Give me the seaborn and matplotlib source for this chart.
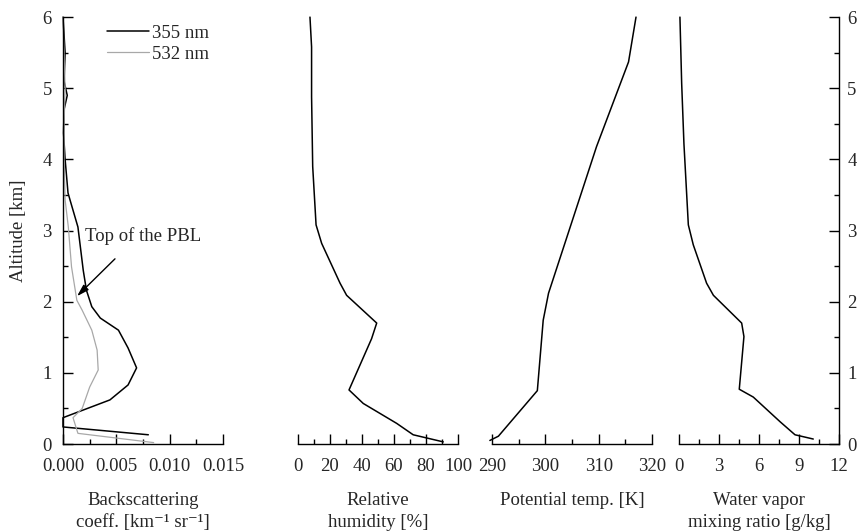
import numpy as np
import pandas as pd
import matplotlib
matplotlib.use("Agg")
import matplotlib.pyplot as plt
from matplotlib.ticker import MultipleLocator, FormatStrFormatter
import seaborn as sns

# ---------- data ----------
alt_355 = [0.13, 0.24, 0.37, 0.62, 0.83, 1.07, 1.35, 1.60, 1.77, 1.93, 2.16,
           2.44, 3.05, 3.43, 3.53, 4.0, 4.37, 4.7, 4.9, 5.1, 5.5, 6.0]
bs_355 = [0.0080, 0.0, 0.0, 0.0044, 0.0061, 0.0069, 0.0061, 0.0052, 0.0035,
          0.0027, 0.0022, 0.0019, 0.0014, 0.00066, 0.00047, 0.0002, 0.00005,
          0.0001, 0.0004, 0.0001, 0.0002, 0.0]

alt_532 = [0.02, 0.15, 0.37, 0.50, 0.80, 1.04, 1.32, 1.60, 1.88, 2.02, 2.49,
           3.05, 3.43, 4.0, 4.5, 5.0, 5.5, 6.0]
bs_532 = [0.0085, 0.0014, 0.00094, 0.0018, 0.0025, 0.0033, 0.0032, 0.0027,
          0.0018, 0.0013, 0.0008, 0.0005, 0.0002, 0.0001, 0.0001, 0.0002,
          0.0001, 0.0]

alt_rh = [0.03, 0.13, 0.29, 0.57, 0.76, 1.48, 1.70, 2.09, 2.26, 2.82, 3.08,
          3.9, 4.88, 5.58, 6.0]
rh = [90.8, 72.0, 61.7, 40.8, 31.9, 46.0, 49.2, 30.4, 26.3, 14.8, 11.3,
      9.2, 8.5, 8.5, 7.5]

alt_theta = [0.05, 0.11, 0.75, 1.74, 2.12, 4.18, 5.37, 6.0]
theta = [289.6, 291.2, 298.5, 299.6, 300.6, 309.6, 315.6, 317.0]

alt_w = [0.07, 0.13, 0.31, 0.66, 0.77, 1.51, 1.70, 2.09, 2.26, 2.80, 3.08,
         4.22, 5.07, 6.0]
w = [10.07, 8.7, 7.6, 5.57, 4.52, 4.87, 4.7, 2.58, 2.07, 1.07, 0.70,
     0.37, 0.2, 0.07]

# ---------- style ----------
sns.set_theme(style="ticks")
plt.rcParams["font.family"] = ["Liberation Serif", "DejaVu Serif"]
FS = 13.5

fig = plt.figure(figsize=(8.57, 5.31), dpi=100)
bottom, height, width = 0.1638, 0.804, 0.1867
lefts = [0.0735, 0.3477, 0.5741, 0.7923]
axes = [fig.add_axes([l, bottom, width, height]) for l in lefts]

# panel settings: (xlim, major, minor, xlabel)
panels = [
    ((0, 0.015), 0.005, 0.0025, "Backscattering\ncoeff. [km\u207b\u00b9 sr\u207b\u00b9]"),
    ((0, 100), 20, 10, "Relative\nhumidity [%]"),
    ((290, 320), 10, 5, "Potential temp. [K]"),
    ((0, 12), 3, 1.5, "Water vapor\nmixing ratio [g/kg]"),
]

for i, (ax, (xlim, maj, mnr, xlabel)) in enumerate(zip(axes, panels)):
    ax.set_facecolor("none")
    ax.set_xlim(*xlim)
    ax.set_ylim(0, 6)
    ax.xaxis.set_major_locator(MultipleLocator(maj))
    ax.xaxis.set_minor_locator(MultipleLocator(mnr))
    ax.spines["top"].set_visible(False)
    ax.spines["left"].set_visible(i == 0)
    ax.spines["right"].set_visible(i == 3)
    for s in ax.spines.values():
        s.set_linewidth(1.0)
        s.set_color("black")
    ax.tick_params(axis="both", which="both", direction="in", width=1.0,
                   color="black", labelsize=FS)
    ax.tick_params(axis="x", pad=10)
    ax.tick_params(which="major", length=7)
    ax.tick_params(which="minor", length=3.5)
    ax.set_xlabel(xlabel, fontsize=FS, labelpad=12, linespacing=1.45)
    if i == 0:
        ax.yaxis.set_major_locator(MultipleLocator(1))
        ax.yaxis.set_minor_locator(MultipleLocator(0.5))
        ax.yaxis.set_ticks_position("left")
        ax.set_ylabel("Altitude [km]", fontsize=FS, labelpad=11)
        ax.tick_params(axis="y", pad=8)
    elif i == 3:
        ax.yaxis.set_major_locator(MultipleLocator(1))
        ax.yaxis.set_minor_locator(MultipleLocator(0.5))
        ax.yaxis.set_ticks_position("right")
        ax.yaxis.set_label_position("right")
        ax.tick_params(axis="y", pad=6)
    else:
        ax.set_yticks([])
        ax.tick_params(axis="y", which="minor", left=False, right=False)

axes[0].xaxis.set_major_formatter(FormatStrFormatter("%.3f"))

# ---------- lines ----------
sns.lineplot(x=bs_355, y=alt_355, sort=False, estimator=None, color="black",
             linewidth=1.1, label="355 nm", ax=axes[0])
sns.lineplot(x=bs_532, y=alt_532, sort=False, estimator=None, color="#a8a8a8",
             linewidth=0.9, label="532 nm", ax=axes[0])
sns.lineplot(x=rh, y=alt_rh, sort=False, estimator=None, color="black",
             linewidth=1.1, ax=axes[1])
sns.lineplot(x=theta, y=alt_theta, sort=False, estimator=None, color="black",
             linewidth=1.1, ax=axes[2])
sns.lineplot(x=w, y=alt_w, sort=False, estimator=None, color="black",
             linewidth=1.1, ax=axes[3])

for ax in axes:
    for ln in ax.lines:
        ln.set_clip_on(False)

axes[0].legend(loc="upper left", bbox_to_anchor=(0.23, 1.0), frameon=False,
               fontsize=FS, handlelength=2.2, handletextpad=0.2,
               labelspacing=0.2, borderaxespad=0)

# PBL annotation
axes[0].text(0.0021, 2.92, "Top of the PBL", fontsize=FS, va="center",
             ha="left")
axes[0].annotate("", xy=(0.00113, 2.05), xytext=(0.00506, 2.63),
                 arrowprops=dict(arrowstyle="-|>,head_length=0.6,head_width=0.18",
                                 color="black", lw=1.0))

fig.savefig("out.png", dpi=100)
